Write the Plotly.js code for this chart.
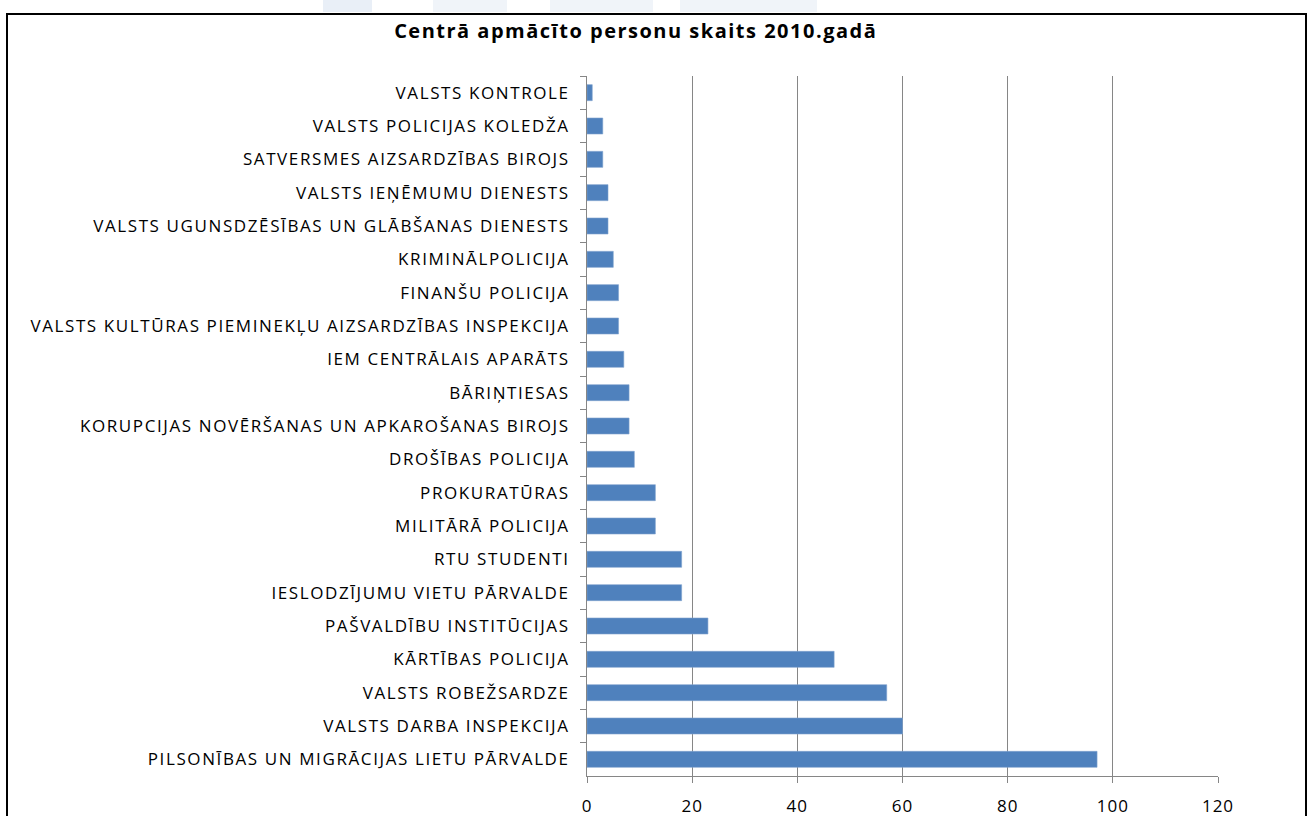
<!DOCTYPE html>
<html>
<head>
<meta charset="utf-8">
<script src="https://cdn.plot.ly/plotly-3.0.1.min.js"></script>
<style>
  html, body { margin: 0; padding: 0; background: #ffffff; }
  #wrap { position: relative; width: 1308px; height: 816px; overflow: hidden; }
  #chart { position: absolute; left: 0; top: 0; width: 1308px; height: 816px; }
  #frame { position: absolute; left: 6px; top: 13px; width: 1297px; height: 820px;
           border: 2px solid #000; pointer-events: none; }
  .deco { position: absolute; top: 0; height: 12px; background: #f0f4f9; }
  #chart .ytick text { letter-spacing: 1.6px; }
  #chart .xtick text { letter-spacing: 1px; }
  #chart .gtitle { letter-spacing: 1.5px; }
</style>
</head>
<body>
<div id="wrap">
  <div class="deco" style="left:323px;width:49px;background:#e9eff7;"></div>
  <div class="deco" style="left:433px;width:74px;"></div>
  <div class="deco" style="left:550px;width:103px;"></div>
  <div class="deco" style="left:680px;width:137px;"></div>
  <div id="chart"></div>
  <div id="frame"></div>
</div>
<script>
const categories = [
  "VALSTS KONTROLE",
  "VALSTS POLICIJAS KOLEDŽA",
  "SATVERSMES AIZSARDZĪBAS BIROJS",
  "VALSTS IEŅĒMUMU DIENESTS",
  "VALSTS UGUNSDZĒSĪBAS UN GLĀBŠANAS DIENESTS",
  "KRIMINĀLPOLICIJA",
  "FINANŠU POLICIJA",
  "VALSTS KULTŪRAS PIEMINEKĻU AIZSARDZĪBAS INSPEKCIJA",
  "IEM CENTRĀLAIS APARĀTS",
  "BĀRIŅTIESAS",
  "KORUPCIJAS NOVĒRŠANAS UN APKAROŠANAS BIROJS",
  "DROŠĪBAS POLICIJA",
  "PROKURATŪRAS",
  "MILITĀRĀ POLICIJA",
  "RTU STUDENTI",
  "IESLODZĪJUMU VIETU PĀRVALDE",
  "PAŠVALDĪBU INSTITŪCIJAS",
  "KĀRTĪBAS POLICIJA",
  "VALSTS ROBEŽSARDZE",
  "VALSTS DARBA INSPEKCIJA",
  "PILSONĪBAS UN MIGRĀCIJAS LIETU PĀRVALDE"
];
const values = [1, 3, 3, 4, 4, 5, 6, 6, 7, 8, 8, 9, 13, 13, 18, 18, 23, 47, 57, 60, 97];
const xTickValues = [0, 20, 40, 60, 80, 100, 120];
const chartTitle = "Centrā apmācīto personu skaits 2010.gadā";

const trace = {
  type: "bar",
  orientation: "h",
  x: values,
  y: categories,
  marker: { color: "#4F81BD", line: { color: "#7FA3CF", width: 0.6 } },
  hoverinfo: "x+y"
};

const layout = {
  width: 1308,
  height: 816,
  margin: { l: 587, r: 90, t: 76, b: 40 },
  paper_bgcolor: "rgba(0,0,0,0)",
  plot_bgcolor: "rgba(0,0,0,0)",
  bargap: 0.52,
  showlegend: false,
  font: { family: "Open Sans, Liberation Sans, sans-serif", color: "#000" },
  title: {
    text: "<b>" + chartTitle + "</b>",
    font: { family: "Open Sans, Liberation Sans, sans-serif", size: 20, color: "#000" },
    x: 0.486, xanchor: "center",
    y: 0.962, yanchor: "middle"
  },
  xaxis: {
    range: [0, 120],
    tickvals: xTickValues,
    ticktext: xTickValues.map(String),
    showgrid: true,
    gridcolor: "#868686",
    gridwidth: 1,
    zeroline: false,
    showline: true,
    linecolor: "#868686",
    linewidth: 1,
    ticks: "outside",
    ticklen: 6,
    tickcolor: "#868686",
    ticklabelstandoff: 9,
    tickfont: { size: 17, family: "Open Sans, Liberation Sans, sans-serif", color: "#000" },
    fixedrange: true
  },
  yaxis: {
    type: "category",
    autorange: "reversed",
    showline: true,
    linecolor: "#868686",
    linewidth: 1,
    ticks: "outside",
    tickson: "boundaries",
    ticklen: 6,
    tickcolor: "#868686",
    ticklabelstandoff: 13,
    showgrid: false,
    tickfont: { size: 17, family: "Open Sans, Liberation Sans, sans-serif", color: "#000" },
    fixedrange: true
  }
};

Plotly.newPlot("chart", [trace], layout, { displayModeBar: false, staticPlot: true });
</script>
</body>
</html>
